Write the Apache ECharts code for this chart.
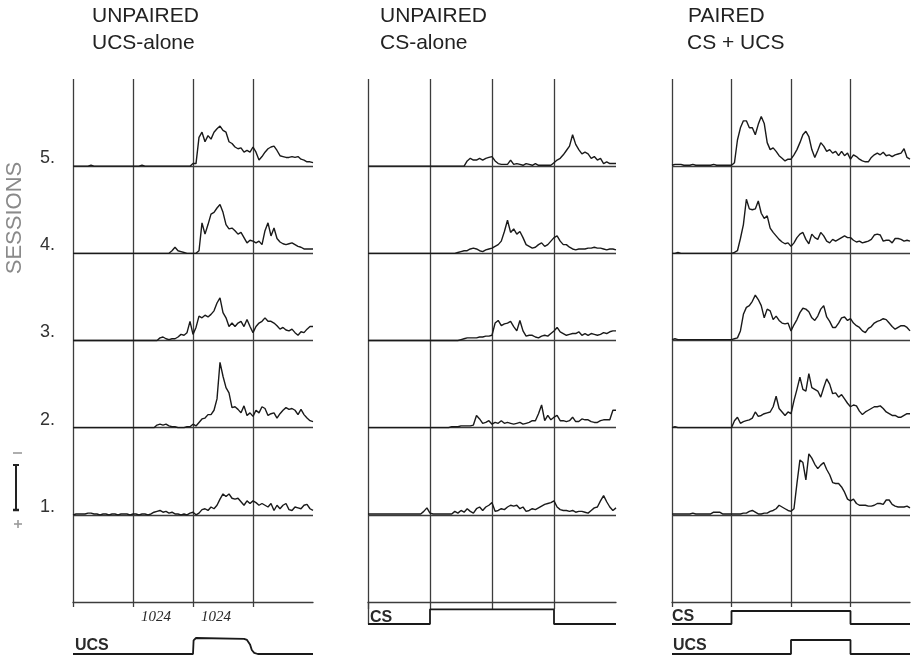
<!DOCTYPE html>
<html>
<head>
<meta charset="utf-8">
<title>Multi-unit responses by session</title>
<script src="https://cdn.jsdelivr.net/npm/echarts@6/dist/echarts.min.js"></script>
<style>
  html, body { margin: 0; padding: 0; background: #ffffff; }
  #chart { width: 916px; height: 658px; }
</style>
</head>
<body>
<div id="chart"></div>
<script>
// Samples are taken every 0.05 of a stimulus interval, from 0 to 4 intervals.
const STEP = 0.05;
const sessionLabels = ['1.', '2.', '3.', '4.', '5.'];
const addressLabel = '1024';
const panelTitles = [
  ['UNPAIRED', 'UCS-alone'],
  ['UNPAIRED', 'CS-alone'],
  ['PAIRED', 'CS + UCS']
];

// Response amplitude, in % of the spacing between session baselines.
// UNPAIRED, UCS-alone
const ucsAloneS1 = [
  0,1,1,1,1,2,2,1,1,0, 1,1,0,1,1,0,1,1,1,0, 1,1,0,1,1,0,1,3,4,5, 3,4,2,3,1,1,0,1,0,2,
  3,0,2,6,7,5,9,7,11,18, 24,21,24,19,18,19,15,11,16,13, 16,14,11,13,11,9,13,5,11,7, 11,13,6,5,9,8,7,11,12,7,
  5];
const ucsAloneS2 = [
  0,0,0,0,0,0,0,0,0,0, 0,0,0,0,0,0,0,0,0,0, 0,0,0,0,0,0,0,0,3,4, 3,4,2,1,1,0,0,0,1,1,
  4,2,6,10,11,15,15,20,33,75, 59,46,40,23,24,21,17,25,14,17, 13,20,17,24,22,14,16,17,11,16, 20,23,21,22,20,15,21,15,11,8,
  7];
const ucsAloneS3 = [
  0,0,0,0,0,0,0,0,0,0, 0,0,0,0,0,0,0,0,0,0, 0,0,0,0,0,0,0,0,0,3, 4,2,1,2,2,4,7,6,9,22,
  7,15,28,26,29,27,30,34,43,49, 32,26,16,20,16,20,22,16,24,16, 9,16,20,22,26,22,22,20,17,13, 15,12,11,13,9,6,10,9,13,16,
  16];
const ucsAloneS4 = [
  0,0,0,0,0,0,0,0,0,0, 0,0,0,0,0,0,0,0,0,0, 0,0,0,0,0,0,0,0,0,0, 0,0,0,3,7,3,2,1,0,0,
  0,0,3,35,22,33,45,47,52,56, 47,33,28,29,26,22,24,18,12,15, 14,12,14,10,26,35,20,29,17,13, 11,10,11,12,10,8,7,5,5,5,
  5];
const ucsAloneS5 = [
  0,0,0,0,0,0,1,0,0,0, 0,0,0,0,0,0,0,0,0,0, 0,0,0,1,0,0,0,0,0,0, 0,0,0,0,0,0,0,0,0,0,
  3,3,33,39,28,35,31,39,43,46, 41,39,28,26,22,20,21,16,18,16, 22,16,7,11,16,20,22,23,18,12, 11,10,10,11,10,11,8,7,5,5,
  4];

// UNPAIRED, CS-alone
const csAloneS1 = [
  1,1,1,1,1,1,1,1,1,1, 1,1,1,1,1,1,1,1,4,8, 2,1,1,1,1,1,1,1,4,2, 5,3,7,4,2,7,9,5,9,11,
  14,4,5,7,6,9,11,10,11,7, 9,4,5,7,6,8,10,12,13,14, 16,9,6,5,5,4,5,3,4,4, 3,2,5,8,9,16,22,15,9,5,
  8];
const csAloneS2 = [
  0,0,0,0,0,0,0,0,0,0, 0,0,0,0,0,0,0,0,0,0, 0,0,0,0,0,0,0,1,1,1, 2,2,2,2,3,14,10,5,6,8,
  4,6,5,8,5,6,5,4,5,6, 4,5,6,8,8,16,26,8,14,9, 12,14,8,8,7,8,12,7,7,10, 9,9,7,6,6,8,9,9,9,20,
  20];
const csAloneS3 = [
  0,0,0,0,0,0,0,0,0,0, 0,0,0,0,0,0,0,0,0,0, 0,0,0,0,0,0,0,0,0,0, 1,2,3,3,3,3,4,4,5,5,
  6,20,23,17,19,20,22,16,11,23, 11,5,6,6,4,3,5,6,5,8, 11,15,10,8,6,7,8,8,10,6, 8,6,8,7,6,7,9,8,10,11,
  11];
const csAloneS4 = [
  0,0,0,0,0,0,0,0,0,0, 0,0,0,0,0,0,0,0,0,0, 0,0,0,0,0,0,0,0,0,1, 2,3,3,5,6,5,3,2,4,5,
  6,8,10,14,25,38,24,28,22,25, 18,10,8,6,7,10,12,8,10,14, 18,20,14,10,10,7,5,4,5,5, 5,6,6,7,6,6,5,4,5,5,
  4];
const csAloneS5 = [
  0,0,0,0,0,0,0,0,0,0, 0,0,0,0,0,0,0,0,0,0, 0,0,0,0,0,0,0,0,0,0, 0,0,6,9,7,7,9,7,9,10,
  11,6,3,2,2,2,7,2,3,2, 1,3,2,1,3,1,1,1,1,1, 4,7,9,13,18,23,36,25,19,14, 16,14,9,11,7,9,3,5,3,3,
  3];

// PAIRED, CS + UCS
const pairedS1 = [
  1,1,1,1,1,1,1,2,1,1, 1,1,1,1,3,3,3,1,1,1, 1,1,1,1,2,2,4,5,3,1, 1,2,2,4,5,7,11,9,7,5,
  4,7,36,63,60,40,70,65,58,53, 57,60,52,46,37,36,36,32,26,18, 16,18,13,11,11,11,10,10,11,13, 13,12,17,17,12,10,9,9,9,10,
  8];
const pairedS2 = [
  0,1,0,0,0,0,0,0,0,0, 0,0,0,0,0,0,0,0,0,0, 0,8,12,5,7,8,9,11,18,13, 14,16,17,18,24,36,22,18,14,18,
  16,31,44,58,44,42,62,46,44,42, 35,46,56,50,39,40,35,38,33,28, 24,26,25,19,15,18,20,22,24,24, 25,22,18,16,14,14,12,12,14,16,
  16];
const pairedS3 = [
  1,2,1,1,1,1,1,1,1,1, 1,1,1,1,1,1,1,1,1,1, 1,2,3,11,30,38,40,45,52,47, 40,26,36,34,24,28,23,20,19,20,
  11,18,24,32,37,36,33,26,23,28, 36,40,27,22,15,15,20,26,27,23, 25,20,17,15,11,9,14,16,20,22, 23,25,24,20,16,13,15,17,17,15,
  11];
const pairedS4 = [
  0,0,1,0,0,0,0,0,0,0, 0,0,0,0,0,0,0,0,0,0, 0,1,3,17,33,62,51,50,51,60, 46,40,43,29,24,20,16,13,11,12,
  8,12,18,22,24,16,11,22,18,16, 24,20,14,12,16,14,16,18,20,18, 18,15,13,14,12,13,14,16,21,22, 21,14,15,15,12,17,17,16,14,15,
  14];
const pairedS5 = [
  1,2,2,2,1,1,1,2,1,1, 1,1,1,1,2,1,1,1,1,1, 1,4,30,44,52,52,44,44,36,48, 57,49,27,19,21,17,12,9,6,8,
  8,13,19,27,36,40,34,19,10,18, 27,23,17,19,15,17,12,17,12,15, 8,13,11,8,6,5,5,10,13,15, 13,16,12,13,11,13,14,15,20,10,
  8];

// Stimulus markers. Pulse levels per interval (0 = off, 1 = on), t = 0..4.
const csAloneCs = [0, 1, 1, 0, 0];
const pairedCs  = [0, 1, 1, 0, 0];
const pairedUcs = [0, 0, 1, 0, 0];
// UCS-alone marker: [time, level] with its slow falling edge.
const ucsAloneUcs = [[0, 0], [2, 0], [2.01, 0.85], [2.05, 1], [2.85, 0.95], [2.9, 0.88],
                     [2.95, 0.6], [2.98, 0.25], [3.02, 0.07], [3.08, 0], [4, 0]];

const GRID_INK = '#3c3c3c';
const TRACE_INK = '#1a1a1a';
const SANS = '"Liberation Sans", Arial, sans-serif';

// Panel layout on the page
const panels = [
  { left: 73,  width: 240, traces: [ucsAloneS1, ucsAloneS2, ucsAloneS3, ucsAloneS4, ucsAloneS5], tickLen: 5 },
  { left: 368, width: 248, traces: [csAloneS1, csAloneS2, csAloneS3, csAloneS4, csAloneS5], tickLen: 7 },
  { left: 672, width: 238, traces: [pairedS1, pairedS2, pairedS3, pairedS4, pairedS5], tickLen: 5 }
];

const grids = [], xAxes = [], yAxes = [], series = [];

function addGrid(grid, xAxis, yAxis) {
  grids.push(Object.assign({ outerBoundsMode: 'none', containLabel: false }, grid));
  const gi = grids.length - 1;
  xAxes.push(Object.assign({ gridIndex: gi }, xAxis));
  yAxes.push(Object.assign({ gridIndex: gi }, yAxis));
  return gi;
}

const gridLine = { color: GRID_INK, width: 1.3 };

panels.forEach((p, pi) => {
  const gi = addGrid(
    { left: p.left, width: p.width, top: 79, height: 523 },
    {
      type: 'value', min: 0, max: 4, interval: 1,
      axisLine: { show: true, lineStyle: gridLine },
      // vertical time marks at the start of each interval (none at the right end)
      axisTick: { show: true, customValues: [0, 1, 2, 3], length: p.tickLen, inside: false, lineStyle: gridLine },
      splitLine: { show: true, lineStyle: gridLine },
      axisLabel: pi === 0 ? {
        show: true, customValues: [1, 2], formatter: () => addressLabel,
        align: 'left', verticalAlign: 'top', padding: [0, 0, 0, 8], margin: 8,
        fontFamily: '"Liberation Serif", serif', fontStyle: 'italic', fontSize: 15, color: '#2a2a2a'
      } : { show: false }
    },
    {
      type: 'value', min: 0, max: 6, interval: 1,
      axisLine: { show: false }, axisTick: { show: false },
      splitLine: { show: true, showMinLine: false, showMaxLine: false, lineStyle: gridLine },
      axisLabel: pi === 0 ? {
        show: true, customValues: [1, 2, 3, 4, 5], formatter: v => sessionLabels[v - 1],
        margin: 18, verticalAlign: 'bottom', lineHeight: 16,
        fontFamily: SANS, fontSize: 18, color: '#333333'
      } : { show: false }
    }
  );
  // Session k is drawn on baseline k of the panel
  p.traces.forEach((amps, si) => {
    series.push({
      type: 'line', xAxisIndex: gi, yAxisIndex: gi,
      data: amps.map((a, i) => [i * STEP, si + 1 + a / 100]),
      symbol: 'none', smooth: false, silent: true, z: 3,
      lineStyle: { color: TRACE_INK, width: 1.4 }
    });
  });
});

function stimGrid(left, width, top, height, yMax, showStub) {
  return addGrid(
    { left, width, top, height },
    { type: 'value', min: 0, max: 4, show: false },
    {
      type: 'value', min: 0, max: yMax, show: showStub,
      axisLine: { show: showStub, lineStyle: gridLine },
      axisTick: { show: false }, axisLabel: { show: false }, splitLine: { show: false }
    }
  );
}

function pulseSeries(gi, levels) {
  return {
    type: 'line', xAxisIndex: gi, yAxisIndex: gi, step: 'end',
    data: levels.map((v, i) => [i, v]),
    symbol: 'none', silent: true, lineStyle: { color: TRACE_INK, width: 1.8 }
  };
}

// UCS marker under the UCS-alone panel
const gUcsA = stimGrid(73, 240, 638, 16, 1, false);
series.push({
  type: 'line', xAxisIndex: gUcsA, yAxisIndex: gUcsA, data: ucsAloneUcs,
  symbol: 'none', silent: true, lineStyle: { color: TRACE_INK, width: 1.8 }
});
// CS marker under the CS-alone panel (left stub joins the panel frame)
const gCsA = stimGrid(368, 248, 602, 22, 1.5, true);
series.push(pulseSeries(gCsA, csAloneCs));
// CS and UCS markers under the paired panel
const gCsP = stimGrid(672, 238, 611, 13, 1, false);
series.push(pulseSeries(gCsP, pairedCs));
const gUcsP = stimGrid(672, 238, 640, 14, 1, false);
series.push(pulseSeries(gUcsP, pairedUcs));

function label(text, x, y, font, fill) {
  return { type: 'text', x, y, silent: true,
    style: { text, font, fill, align: 'left', verticalAlign: 'middle' } };
}

const titleFont = '21px ' + SANS;
const markFont = 'bold 16px ' + SANS;
const titleX = [92, 380, 688];
const graphics = [];
panelTitles.forEach((lines, i) => {
  graphics.push(label(lines[0], titleX[i], 16, titleFont, '#222222'));
  graphics.push(label(lines[1], titleX[i] - (i === 2 ? 1 : 0), 43, titleFont, '#222222'));
});
graphics.push(label('UCS', 75, 646, markFont, '#2a2a2a'));
graphics.push(label('CS', 370, 618, markFont, '#2a2a2a'));
graphics.push(label('CS', 672, 617, markFont, '#2a2a2a'));
graphics.push(label('UCS', 673, 646, markFont, '#2a2a2a'));
graphics.push({
  type: 'text', x: 15, y: 218, rotation: Math.PI / 2, silent: true,
  style: { text: 'SESSIONS', font: '22px ' + SANS, fill: '#8a8a8a', align: 'center', verticalAlign: 'middle' }
});
// Amplitude calibration bar with polarity marks
graphics.push({ type: 'line', silent: true, shape: { x1: 16, y1: 465, x2: 16, y2: 510 }, style: { stroke: '#222', lineWidth: 2 } });
graphics.push({ type: 'line', silent: true, shape: { x1: 13, y1: 465, x2: 19, y2: 465 }, style: { stroke: '#222', lineWidth: 2 } });
graphics.push({ type: 'line', silent: true, shape: { x1: 13, y1: 510, x2: 19, y2: 510 }, style: { stroke: '#222', lineWidth: 2.5 } });
graphics.push({ type: 'line', silent: true, shape: { x1: 13, y1: 453, x2: 22, y2: 453 }, style: { stroke: '#9a9a9a', lineWidth: 1.6 } });
graphics.push({ type: 'line', silent: true, shape: { x1: 14, y1: 524, x2: 22, y2: 524 }, style: { stroke: '#9a9a9a', lineWidth: 1.6 } });
graphics.push({ type: 'line', silent: true, shape: { x1: 18, y1: 520, x2: 18, y2: 528 }, style: { stroke: '#9a9a9a', lineWidth: 1.6 } });

const chart = echarts.init(document.getElementById('chart'), null, { renderer: 'canvas' });
chart.setOption({
  backgroundColor: '#ffffff',
  animation: false,
  grid: grids,
  xAxis: xAxes,
  yAxis: yAxes,
  series: series,
  graphic: graphics
});
</script>
</body>
</html>
